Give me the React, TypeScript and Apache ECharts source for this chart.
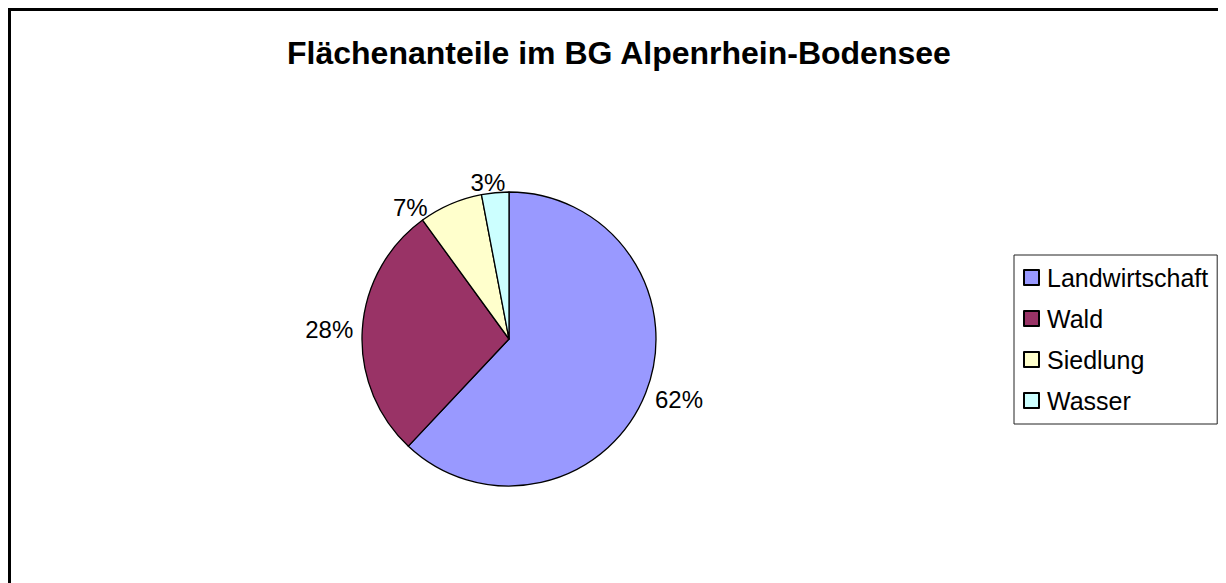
import React, { useEffect, useRef } from "react";
import * as echarts from "echarts";

const titleText = "Flächenanteile im BG Alpenrhein-Bodensee";
const categories = ["Landwirtschaft", "Wald", "Siedlung", "Wasser"];
const values = [62, 28, 7, 3];
const colors = ["#9999FF", "#993366", "#FFFFCC", "#CCFFFF"];
// small nudges of the percentage labels (style only)
const labelNudge = [
  [-5, 3],
  [6, 0],
  [-14, 13],
  [16, 0],
];

export default function App() {
  const ref = useRef<HTMLDivElement>(null);
  useEffect(() => {
    if (!ref.current) return;
    document.documentElement.style.overflow = "hidden";
    const chart = echarts.init(ref.current, null, { renderer: "svg" });
    const font = "Liberation Sans, Arial, Helvetica, sans-serif";
    chart.setOption({
      animation: false,
      backgroundColor: "#ffffff",
      title: {
        text: titleText,
        left: 274,
        top: 24,
        textStyle: { fontFamily: font, fontSize: 32, fontWeight: "bold", color: "#000" },
      },
      legend: {
        orient: "vertical",
        left: 1006,
        top: 247,
        padding: [10, 9, 11, 9],
        borderColor: "#222",
        borderWidth: 1,
        itemWidth: 15,
        itemHeight: 15,
        itemGap: 16,
        icon: "rect",
        data: categories,
        textStyle: { fontFamily: font, fontSize: 25, color: "#000", padding: [0, 0, 0, 3] },
      },
      graphic: [
        {
          type: "rect",
          shape: { x: 1.5, y: 1.5, width: 1400, height: 800 },
          style: { fill: "none", stroke: "#000", lineWidth: 3 },
          silent: true,
        },
      ],
      series: [
        {
          type: "pie",
          center: [501, 331],
          radius: 147,
          startAngle: 90,
          clockwise: true,
          avoidLabelOverlap: false,
          data: categories.map((c, i) => ({ name: c, value: values[i], itemStyle: { color: colors[i] } })),
          itemStyle: { borderColor: "#000", borderWidth: 1.3 },
          label: {
            show: true,
            position: "outside",
            formatter: "{d}%",
            fontFamily: font,
            fontSize: 24,
            color: "#000",
          },
          labelLine: { show: false, length: 10, length2: 0 },
          labelLayout: (p: any) => ({ dx: labelNudge[p.dataIndex][0], dy: labelNudge[p.dataIndex][1] }),
          emphasis: { disabled: true },
        },
      ],
    });
    return () => chart.dispose();
  }, []);
  return <div ref={ref} style={{ width: 1218, height: 575 }} />;
}
